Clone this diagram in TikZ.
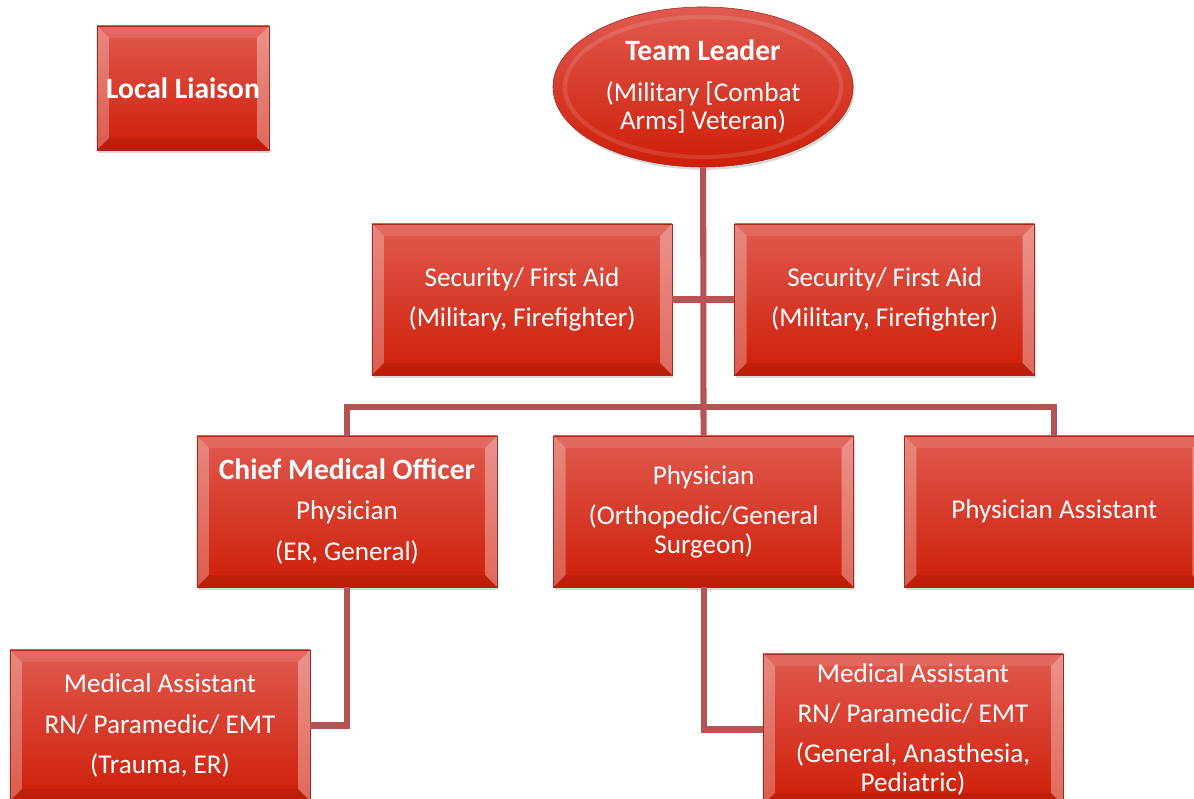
\documentclass[tikz,border=0pt]{standalone}
\usepackage{fontspec}
\setmainfont{Carlito}
\usetikzlibrary{positioning,shadows,shapes.geometric}

\definecolor{boxtop}{RGB}{224,90,80}
\definecolor{boxbot}{RGB}{206,30,8}
\definecolor{boxedge}{RGB}{165,40,30}
\definecolor{linkred}{RGB}{182,84,84}

% bevel facets of a box
\newcommand{\boxbevel}{%
  \coordinate (bvnw) at (path picture bounding box.north west);
  \coordinate (bvne) at (path picture bounding box.north east);
  \coordinate (bvsw) at (path picture bounding box.south west);
  \coordinate (bvse) at (path picture bounding box.south east);
  \fill[white,opacity=.28] (bvsw) -- (bvnw) -- ([shift={(.3cm,-.3cm)}]bvnw) -- ([shift={(.3cm,.3cm)}]bvsw) -- cycle;
  \fill[white,opacity=.34] (bvse) -- (bvne) -- ([shift={(-.3cm,-.3cm)}]bvne) -- ([shift={(-.3cm,.3cm)}]bvse) -- cycle;
  \fill[white,opacity=.10] (bvnw) -- (bvne) -- ([shift={(-.3cm,-.3cm)}]bvne) -- ([shift={(.3cm,-.3cm)}]bvnw) -- cycle;
  \fill[black,opacity=.08] (bvsw) -- (bvse) -- ([shift={(-.3cm,.3cm)}]bvse) -- ([shift={(.3cm,.3cm)}]bvsw) -- cycle;
}
% bold heading line
\newcommand{\headline}[1]{{\fontsize{21pt}{20.6pt}\selectfont\bfseries #1}}

\begin{document}
\begin{tikzpicture}[
    x=0.025cm, y=0.025cm,
    textfont/.style={text=white, align=center, font=\fontsize{19.3pt}{20.6pt}\selectfont},
    box/.style={rectangle, textfont, draw=boxedge, top color=boxtop, bottom color=boxbot,
        minimum width=7.5cm, minimum height=3.775cm, inner sep=0pt,
        drop shadow={opacity=.3, shadow xshift=1pt, shadow yshift=-2pt},
        path picture={\boxbevel}},
    oval/.style={ellipse, textfont, draw=boxedge, top color=boxtop, bottom color=boxbot,
        minimum width=7.5cm, minimum height=4cm, inner sep=0pt,
        drop shadow={opacity=.3, shadow xshift=1pt, shadow yshift=-2pt},
        path picture={\draw[white, opacity=.12, line width=3pt]
            (path picture bounding box.center) ellipse (3.45cm and 1.75cm);}},
    link/.style={draw=linkred, line width=4.3pt}
]
    \useasboundingbox (0,0) rectangle (1194,799);

    \node[box, minimum width=4.3cm, minimum height=3.1cm] (liaison) at (183,711) {\headline{Local Liaison}};
    \node[oval] (leader) at (703,712) {\headline{Team Leader}\\[7.9pt](Military [Combat\\Arms] Veteran)};

    \node[box] (sec1) at (522,499.5) {Security/ First Aid\\[7.9pt](Military, Firefighter)};
    \node[box, right=1.55cm of sec1] (sec2) {Security/ First Aid\\[7.9pt](Military, Firefighter)};

    \node[box] (cmo) at (347,287.5) {\headline{Chief Medical Officer}\\[7.9pt]Physician\\[7.9pt](ER, General)};
    \node[box, right=1.4cm of cmo] (phys) {Physician\\[7.9pt](Orthopedic/General\\Surgeon)};
    \node[box, right=1.25cm of phys] (pa) {Physician Assistant};

    \node[box] (ma1) at (160,73.5) {Medical Assistant\\[7.9pt]RN/ Paramedic/ EMT\\[7.9pt](Trauma, ER)};
    \node[box] (ma2) at (913,69.5) {Medical Assistant\\[7.9pt]RN/ Paramedic/ EMT\\[7.9pt](General, Anasthesia,\\Pediatric)};

    \coordinate (bus) at (703,392);
    \draw[link] (leader) -- (phys);
    \draw[link] (sec1) -- (sec2);
    \draw[link] (cmo.north) |- (bus) -| (pa.north);
    \draw[link] (cmo.south) |- (ma1.east);
    \draw[link] (phys.south) |- (ma2.west);
\end{tikzpicture}
\end{document}
